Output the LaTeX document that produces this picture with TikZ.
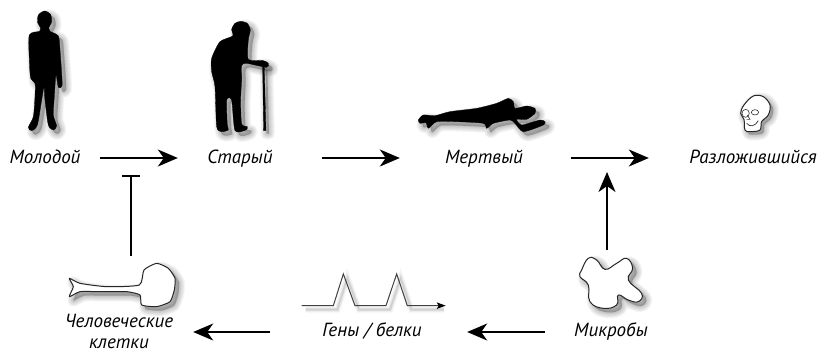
\documentclass[tikz,border=0pt]{standalone}
\usepackage{fontspec}
\setmainfont{PT Sans}
\usetikzlibrary{arrows.meta}
\tikzset{
  lab/.style={font=\fontsize{19}{22}\selectfont\itshape, text height=13pt, text depth=3pt, inner sep=0pt, text=black, minimum height=16pt},
  labb/.style={lab, text height=12pt, text depth=4pt},
  flow/.style={line width=1.8pt, -{Stealth[length=20pt,width=17pt,inset=6pt]}},
  block/.style={line width=1.8pt, -{Bar[width=18pt,line width=1.8pt]}},
  art/.style={x=0.3333pt,y=-0.3333pt},
  solid shape/.style={fill=black,draw=black,line width=.3pt,line join=round},
  outline shape/.style={fill=white,draw=black!85,line width=1pt,line join=round},
}
\newcommand{\softshadow}[2][4]{%
  \foreach \w in {12,10.5,9,7.5,6,4.5,3,1.5,.2}{
    \fill[black,opacity=.032,draw=black,line width=\w pt,line join=round,shift={(#1pt,#1pt*-1)}] #2;
  }
}
\begin{document}
\begin{tikzpicture}[x=1pt,y=-1pt]
\useasboundingbox (0,0) rectangle (818,353);

% --- young man
\begin{scope}[art]
\def\pth{plot[smooth cycle,tension=.45] coordinates {(146,84)(150,94)(175,108)(180,150)(185,220)(186,258)(175,262)(168,225)(163,290)(160,345)(170,378)(160,390)(145,375)(135,300)(132,262)(125,300)(112,375)(95,392)(85,382)(100,350)(105,290)(105,250)(92,235)(88,180)(88,105)(118,94)(122,84)(113,68)(115,45)(133,33)(151,42)(155,65)}}
\softshadow{\pth}
\path[solid shape] \pth;
\end{scope}

% --- old man
\begin{scope}[art]
\def\pth{plot[smooth cycle,tension=.4] coordinates {(698,108)(695,88)(705,70)(722,64)(742,70)(751,90)(745,120)(745,178)(790,182)(805,190)(800,202)(740,190)(725,197)(725,240)(722,300)(725,372)(742,380)(738,390)(705,392)(695,300)(680,300)(682,375)(685,390)(665,395)(650,380)(645,260)(635,215)(635,175)(660,125)}}
\def\cane{(788,200) -- (793,200) -- (798,392) -- (791,392) -- cycle}
\softshadow{\pth}
\softshadow[3]{\cane}
\path[solid shape] \pth;
\path[solid shape] \cane;
\end{scope}

% --- corpse
\begin{scope}[art,shift={(400pt,-80pt)}]
\def\pth{plot[smooth cycle,tension=.4] coordinates {(55,120)(70,105)(105,107)(150,95)(230,85)(290,70)(325,55)(340,65)(345,85)(380,78)(405,85)(405,100)(380,118)(350,118)(365,135)(420,120)(435,125)(430,135)(370,155)(345,130)(330,120)(280,130)(260,145)(250,130)(170,125)(110,125)(85,145)(78,128)(60,130)}}
\softshadow{\pth}
\path[solid shape] \pth;
\end{scope}

% --- skull
\begin{scope}[art,shift={(400pt,-80pt)}]
\def\pth{plot[smooth cycle,tension=.6] coordinates {(1032,75)(1060,48)(1090,50)(1110,75)(1105,105)(1085,125)(1080,150)(1050,155)(1035,150)(1032,118)(1022,100)}}
\softshadow[3]{\pth}
\path[outline shape] \pth;
\draw[black!80,line width=.6pt] (1065,97) ellipse (11 and 8) (1037,100) ellipse (11 and 12);
\draw[black!80,line width=.6pt] (1042,105) -- (1050,118) -- (1040,118);
\draw[black!80,line width=.7pt] (1040,130) .. controls (1050,142) and (1065,140) .. (1075,122);
\end{scope}

% --- cell
\begin{scope}[art,shift={(40pt,-240pt)}]
\def\pth{plot[smooth cycle,tension=.35] coordinates {(88,115)(120,130)(200,140)(298,135)(312,90)(350,70)(385,85)(405,115)(403,150)(390,185)(350,200)(305,195)(300,165)(260,155)(180,155)(120,155)(88,170)(100,140)}}
\softshadow[4]{\pth}
\path[outline shape] \pth;
\end{scope}

% --- genes
\begin{scope}[art,shift={(280pt,-240pt)}]
\def\pth{(65,197) -- (160,197) -- (190,102) -- (225,197) -- (318,197) -- (350,102) -- (382,197) -- (480,197)}
\foreach \w/\o in {7/.025,5/.04,3/.06,1.5/.08}{\draw[black,opacity=\o,line width=\w pt,shift={(4pt,-4pt)}] \pth;}
\draw[black!75,line width=1pt,line join=miter] \pth;
\fill[black] (497,197) -- (470,187) -- (476,197) -- (470,207) -- cycle;
\end{scope}

% --- microbe
\begin{scope}[art,shift={(280pt,-240pt)}]
\def\pth{plot[smooth cycle,tension=.75] coordinates {(905,90)(925,55)(950,60)(975,88)(1010,70)(1040,55)(1058,85)(1045,120)(1085,160)(1075,185)(1045,180)(1015,165)(1010,195)(970,205)(930,185)(925,135)(900,110)}}
\softshadow[4]{\pth}
\path[outline shape] \pth;
\end{scope}

% --- labels (fixed widths so the connector ends are known)
\node[lab,minimum width=72pt] (young) at (45,158) {Молодой};
\node[lab,minimum width=68pt] (old) at (240,158) {Старый};
\node[lab,minimum width=80pt] (dead) at (484,158) {Мертвый};
\node[lab,minimum width=130pt] (decay) at (753,158) {Разложившийся};
\node[lab,align=center,text height=,text depth=,minimum width=116pt,font=\fontsize{19}{21}\selectfont\itshape] (cells) at (119,331) {Человеческие\\клетки};
\node[labb,minimum width=105pt] (genes) at (372,332) {Гены / белки};
\node[labb,minimum width=76pt] (microbes) at (611,332) {Микробы};

% --- connector ends on the shapes
\coordinate (cellTop) at (131,256);
\coordinate (barEnd) at (131,175);
\coordinate (microbeTop) at (607,250);
\coordinate (midArrow) at (607,172);

% --- connectors
\draw[flow,shorten <=19pt,shorten >=28pt] (young.east) -- (old.west);
\draw[flow,shorten <=48pt,shorten >=44pt] (old.east) -- (dead.west);
\draw[flow,shorten <=47pt,shorten >=39pt] (dead.east) -- (decay.west);
\draw[flow] (microbeTop) -- (midArrow);
\draw[block] (cellTop) -- (barEnd);
\draw[flow,shorten <=28pt,shorten >=42.5pt] (microbes.west) -- (genes.east);
\draw[flow,shorten <=49.5pt,shorten >=16pt] (genes.west) -- (genes.west -| cells.east);
\end{tikzpicture}
\end{document}
